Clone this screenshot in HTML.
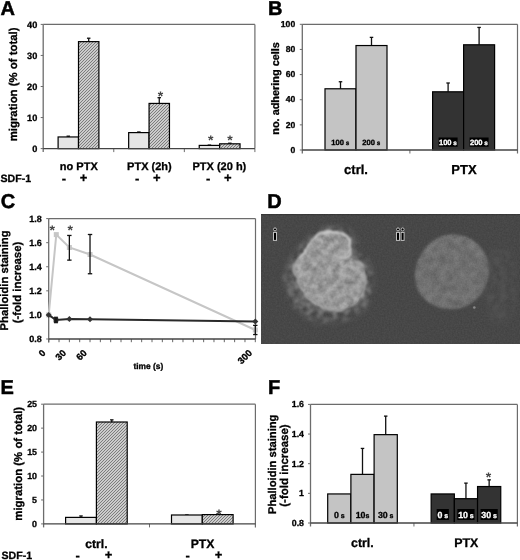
<!DOCTYPE html>
<html><head><meta charset="utf-8"><style>
html,body{margin:0;padding:0;background:#fff;}
svg{display:block;filter:grayscale(1) blur(0.3px);}
</style></head><body>
<svg width="520" height="560" viewBox="0 0 520 560" text-rendering="geometricPrecision" font-family="Liberation Sans, sans-serif" font-weight="bold">
<defs>
<pattern id="hatch" patternUnits="userSpaceOnUse" width="3" height="3">
<rect width="3" height="3" fill="#cbcbcb"/><rect x="2" y="0" width="1" height="1" fill="#7c7c7c"/><rect x="1" y="1" width="1" height="1" fill="#7c7c7c"/><rect x="0" y="2" width="1" height="1" fill="#7c7c7c"/></pattern>
<filter id="blur1" x="-20%" y="-20%" width="140%" height="140%"><feGaussianBlur stdDeviation="1.5"/></filter>
<filter id="blur08" x="-20%" y="-20%" width="140%" height="140%"><feGaussianBlur stdDeviation="0.8"/></filter>
<filter id="blur4" x="-30%" y="-30%" width="160%" height="160%"><feGaussianBlur stdDeviation="4"/></filter>
<clipPath id="cellclip"><path d="M311.4,241.6 C314.0,238.3 316.4,235.4 319.3,233.8 C322.2,232.2 325.2,232.2 329.1,232.2 C333.0,232.2 339.6,232.6 342.9,233.8 C346.2,235.1 347.6,237.1 348.8,239.7 C350.0,242.3 350.5,246.7 350.3,249.5 C350.1,252.3 346.8,254.8 347.5,256.4 C348.2,258.0 352.2,257.8 354.7,259.3 C357.2,260.8 360.7,262.6 362.5,265.2 C364.3,267.8 365.2,271.4 365.5,275.0 C365.8,278.6 365.3,283.2 364.5,286.8 C363.7,290.4 362.1,293.8 360.5,296.7 C358.9,299.6 358.3,302.4 354.7,304.5 C351.1,306.6 343.6,308.8 339.0,309.4 C334.4,310.0 331.1,309.2 327.2,308.4 C323.3,307.6 319.0,306.8 315.4,304.5 C311.8,302.2 308.1,298.0 305.5,294.7 C302.9,291.4 301.4,289.1 299.6,284.9 C297.8,280.6 295.0,273.5 294.7,269.2 C294.4,264.9 296.2,261.9 297.7,259.3 C299.2,256.7 301.3,256.4 303.6,253.4 C305.9,250.4 308.8,244.9 311.4,241.6 Z"/></clipPath>
<filter id="noiseF" x="0" y="0" width="100%" height="100%" color-interpolation-filters="sRGB"><feTurbulence type="fractalNoise" baseFrequency="0.6" numOctaves="2" seed="3"/><feColorMatrix type="matrix" values="1 0 0 0 0  1 0 0 0 0  1 0 0 0 0  0 0 0 0 1"/></filter>
<pattern id="noiseBg" patternUnits="userSpaceOnUse" x="261" y="214" width="259" height="130"><rect width="259" height="130" filter="url(#noiseF)"/></pattern>
<filter id="noiseF2" x="0" y="0" width="100%" height="100%" color-interpolation-filters="sRGB"><feTurbulence type="fractalNoise" baseFrequency="0.14" numOctaves="3" seed="7"/><feColorMatrix type="matrix" values="1.6 0 0 0 -0.2  1.6 0 0 0 -0.2  1.6 0 0 0 -0.2  0 0 0 0 1"/></filter>
<pattern id="noiseCell" patternUnits="userSpaceOnUse" x="261" y="214" width="259" height="130"><rect width="259" height="130" filter="url(#noiseF2)"/></pattern>
<filter id="rough1" x="-20%" y="-20%" width="140%" height="140%"><feTurbulence type="fractalNoise" baseFrequency="0.09" numOctaves="2" seed="5" result="t"/><feDisplacementMap in="SourceGraphic" in2="t" scale="5" xChannelSelector="R" yChannelSelector="G"/><feGaussianBlur stdDeviation="1"/></filter>
<filter id="speckle" x="-30%" y="-30%" width="160%" height="160%" color-interpolation-filters="sRGB"><feGaussianBlur in="SourceGraphic" stdDeviation="3" result="b"/><feTurbulence type="fractalNoise" baseFrequency="0.16" numOctaves="2" seed="11" result="n"/><feColorMatrix in="n" type="matrix" values="0 0 0 0 0  0 0 0 0 0  0 0 0 0 0  0 0 0 2.2 -0.7" result="na"/><feComposite in="b" in2="na" operator="in" result="c"/><feGaussianBlur in="c" stdDeviation="1"/></filter>
<filter id="rough2" x="-20%" y="-20%" width="140%" height="140%"><feTurbulence type="fractalNoise" baseFrequency="0.09" numOctaves="2" seed="5" result="t"/><feDisplacementMap in="SourceGraphic" in2="t" scale="5" xChannelSelector="R" yChannelSelector="G"/><feGaussianBlur stdDeviation="1.8"/></filter>
<filter id="rough4" x="-30%" y="-30%" width="160%" height="160%"><feTurbulence type="fractalNoise" baseFrequency="0.06" numOctaves="2" seed="9" result="t"/><feDisplacementMap in="SourceGraphic" in2="t" scale="14" xChannelSelector="R" yChannelSelector="G"/><feGaussianBlur stdDeviation="3.5"/></filter>
<radialGradient id="cell2"><stop offset="0" stop-color="#777"/><stop offset="0.85" stop-color="#717171"/><stop offset="1" stop-color="#5a5a5a"/></radialGradient>
</defs>
<rect width="520" height="560" fill="#fff"/>
<text x="0.6" y="15.2" font-size="20" text-anchor="start" fill="#000" stroke="#000" stroke-width="0.5">A</text>
<line x1="43.2" y1="24.4" x2="254.9" y2="24.4" stroke="#6c6c6c" stroke-width="1.2"/>
<line x1="254.9" y1="24.4" x2="254.9" y2="148.6" stroke="#6c6c6c" stroke-width="1.2"/>
<line x1="43.2" y1="24.4" x2="43.2" y2="152.1" stroke="#6c6c6c" stroke-width="1.3"/>
<line x1="40.7" y1="148.6" x2="43.2" y2="148.6" stroke="#6c6c6c" stroke-width="1"/>
<text x="37.3" y="151.79999999999998" font-size="9.2" text-anchor="end" fill="#000"  stroke="#000" stroke-width="0.3">0</text>
<line x1="40.7" y1="117.55" x2="43.2" y2="117.55" stroke="#6c6c6c" stroke-width="1"/>
<text x="37.3" y="120.75" font-size="9.2" text-anchor="end" fill="#000"  stroke="#000" stroke-width="0.3">10</text>
<line x1="40.7" y1="86.5" x2="43.2" y2="86.5" stroke="#6c6c6c" stroke-width="1"/>
<text x="37.3" y="89.7" font-size="9.2" text-anchor="end" fill="#000"  stroke="#000" stroke-width="0.3">20</text>
<line x1="40.7" y1="55.45" x2="43.2" y2="55.45" stroke="#6c6c6c" stroke-width="1"/>
<text x="37.3" y="58.650000000000006" font-size="9.2" text-anchor="end" fill="#000"  stroke="#000" stroke-width="0.3">30</text>
<line x1="40.7" y1="24.400000000000006" x2="43.2" y2="24.400000000000006" stroke="#6c6c6c" stroke-width="1"/>
<text x="37.3" y="27.600000000000005" font-size="9.2" text-anchor="end" fill="#000"  stroke="#000" stroke-width="0.3">40</text>
<text x="17.1" y="84.4" font-size="11.4" text-anchor="middle" fill="#000" stroke="#000" stroke-width="0.3" transform="rotate(-90 17.1 84.4)">migration (% of total)</text>
<line x1="68.3" y1="136.18" x2="68.3" y2="136.95624999999998" stroke="#111" stroke-width="1.3"/>
<line x1="66.55" y1="136.18" x2="70.05" y2="136.18" stroke="#111" stroke-width="1.3"/>
<line x1="88.7" y1="38.21724999999999" x2="88.7" y2="41.63275" stroke="#111" stroke-width="1.3"/>
<line x1="86.95" y1="38.21724999999999" x2="90.45" y2="38.21724999999999" stroke="#111" stroke-width="1.3"/>
<rect x="58.1" y="136.95624999999998" width="20.4" height="11.643750000000011" fill="#e6e6e6" stroke="#000" stroke-width="1.2"/>
<rect x="78.5" y="41.63275" width="20.4" height="106.96724999999999" fill="url(#hatch)" stroke="#000" stroke-width="1.2"/>
<line x1="138.86666666666665" y1="131.98825" x2="138.86666666666665" y2="132.60925" stroke="#111" stroke-width="1.3"/>
<line x1="137.11666666666665" y1="131.98825" x2="140.61666666666665" y2="131.98825" stroke="#111" stroke-width="1.3"/>
<line x1="159.26666666666665" y1="97.678" x2="159.26666666666665" y2="103.42224999999999" stroke="#111" stroke-width="1.3"/>
<line x1="157.51666666666665" y1="97.678" x2="161.01666666666665" y2="97.678" stroke="#111" stroke-width="1.3"/>
<rect x="128.66666666666666" y="132.60925" width="20.4" height="15.990749999999991" fill="#e6e6e6" stroke="#000" stroke-width="1.2"/>
<rect x="149.06666666666666" y="103.42224999999999" width="20.4" height="45.17775" fill="url(#hatch)" stroke="#000" stroke-width="1.2"/>
<line x1="113.76666666666667" y1="148.6" x2="113.76666666666667" y2="152.1" stroke="#6c6c6c" stroke-width="1"/>
<line x1="209.4333333333333" y1="145.09135" x2="209.4333333333333" y2="145.40185" stroke="#111" stroke-width="1.3"/>
<line x1="207.6833333333333" y1="145.09135" x2="211.1833333333333" y2="145.09135" stroke="#111" stroke-width="1.3"/>
<line x1="229.83333333333331" y1="143.19729999999998" x2="229.83333333333331" y2="143.8183" stroke="#111" stroke-width="1.3"/>
<line x1="228.08333333333331" y1="143.19729999999998" x2="231.58333333333331" y2="143.19729999999998" stroke="#111" stroke-width="1.3"/>
<rect x="199.23333333333332" y="145.40185" width="20.4" height="3.1981499999999983" fill="#e6e6e6" stroke="#000" stroke-width="1.2"/>
<rect x="219.63333333333333" y="143.8183" width="20.4" height="4.781700000000001" fill="url(#hatch)" stroke="#000" stroke-width="1.2"/>
<line x1="184.33333333333331" y1="148.6" x2="184.33333333333331" y2="152.1" stroke="#6c6c6c" stroke-width="1"/>
<line x1="254.9" y1="148.6" x2="254.9" y2="152.1" stroke="#6c6c6c" stroke-width="1"/>
<line x1="43.2" y1="148.6" x2="254.9" y2="148.6" stroke="#444" stroke-width="1.3"/>
<text x="160.4" y="100.82" font-size="14" text-anchor="middle" fill="#444">*</text>
<text x="210.8" y="145.12" font-size="14" text-anchor="middle" fill="#444">*</text>
<text x="230" y="145.12" font-size="14" text-anchor="middle" fill="#444">*</text>
<text x="78.8" y="170" font-size="11" text-anchor="middle" fill="#000"  stroke="#000" stroke-width="0.3">no PTX</text>
<text x="149.4" y="170" font-size="11" text-anchor="middle" fill="#000"  stroke="#000" stroke-width="0.3">PTX (2h)</text>
<text x="219.4" y="170" font-size="11" text-anchor="middle" fill="#000"  stroke="#000" stroke-width="0.3">PTX (20 h)</text>
<text x="0.5" y="181.5" font-size="10.6" text-anchor="start" fill="#000"  stroke="#000" stroke-width="0.3">SDF-1</text>
<text x="64.0" y="182.6" font-size="13" text-anchor="middle" fill="#000"  stroke="#000" stroke-width="0.3">-</text>
<text x="83.6" y="181.5" font-size="13" text-anchor="middle" fill="#000"  stroke="#000" stroke-width="0.3">+</text>
<text x="137.1" y="182.6" font-size="13" text-anchor="middle" fill="#000"  stroke="#000" stroke-width="0.3">-</text>
<text x="156.9" y="181.5" font-size="13" text-anchor="middle" fill="#000"  stroke="#000" stroke-width="0.3">+</text>
<text x="208.1" y="182.6" font-size="13" text-anchor="middle" fill="#000"  stroke="#000" stroke-width="0.3">-</text>
<text x="227.9" y="181.5" font-size="13" text-anchor="middle" fill="#000"  stroke="#000" stroke-width="0.3">+</text>
<text x="268.0" y="15.3" font-size="20" text-anchor="start" fill="#000" stroke="#000" stroke-width="0.5">B</text>
<line x1="302.3" y1="24.3" x2="517.5" y2="24.3" stroke="#6c6c6c" stroke-width="1.2"/>
<line x1="517.5" y1="24.3" x2="517.5" y2="153.5" stroke="#6c6c6c" stroke-width="1.2"/>
<line x1="302.3" y1="24.3" x2="302.3" y2="153.5" stroke="#6c6c6c" stroke-width="1.3"/>
<line x1="299.8" y1="150.0" x2="302.3" y2="150.0" stroke="#6c6c6c" stroke-width="1"/>
<text x="295.2" y="152.7" font-size="8.6" text-anchor="end" fill="#000"  stroke="#000" stroke-width="0.3">0</text>
<line x1="299.8" y1="124.86" x2="302.3" y2="124.86" stroke="#6c6c6c" stroke-width="1"/>
<text x="295.2" y="127.56" font-size="8.6" text-anchor="end" fill="#000"  stroke="#000" stroke-width="0.3">20</text>
<line x1="299.8" y1="99.72" x2="302.3" y2="99.72" stroke="#6c6c6c" stroke-width="1"/>
<text x="295.2" y="102.42" font-size="8.6" text-anchor="end" fill="#000"  stroke="#000" stroke-width="0.3">40</text>
<line x1="299.8" y1="74.58" x2="302.3" y2="74.58" stroke="#6c6c6c" stroke-width="1"/>
<text x="295.2" y="77.28" font-size="8.6" text-anchor="end" fill="#000"  stroke="#000" stroke-width="0.3">60</text>
<line x1="299.8" y1="49.44" x2="302.3" y2="49.44" stroke="#6c6c6c" stroke-width="1"/>
<text x="295.2" y="52.14" font-size="8.6" text-anchor="end" fill="#000"  stroke="#000" stroke-width="0.3">80</text>
<line x1="299.8" y1="24.299999999999983" x2="302.3" y2="24.299999999999983" stroke="#6c6c6c" stroke-width="1"/>
<text x="295.2" y="26.999999999999982" font-size="8.6" text-anchor="end" fill="#000"  stroke="#000" stroke-width="0.3">100</text>
<text x="279.0" y="88.4" font-size="10.9" text-anchor="middle" fill="#000" stroke="#000" stroke-width="0.3" transform="rotate(-90 279.0 88.4)">no. adhering cells</text>
<line x1="409.9" y1="150.0" x2="409.9" y2="153.5" stroke="#6c6c6c" stroke-width="1"/>
<line x1="340.5" y1="81.74489999999999" x2="340.5" y2="88.7841" stroke="#111" stroke-width="1.3"/>
<line x1="338.75" y1="81.74489999999999" x2="342.25" y2="81.74489999999999" stroke="#111" stroke-width="1.3"/>
<rect x="325.0" y="88.7841" width="31" height="61.215900000000005" fill="#c4c4c4" stroke="#000" stroke-width="1.2"/>
<text x="340.3" y="145.3" font-size="7.6" text-anchor="middle" fill="#000" stroke="#000" stroke-width="0.3">100<tspan font-size="6.3"> s</tspan></text>
<line x1="371.5" y1="37.3728" x2="371.5" y2="45.5433" stroke="#111" stroke-width="1.3"/>
<line x1="369.75" y1="37.3728" x2="373.25" y2="37.3728" stroke="#111" stroke-width="1.3"/>
<rect x="356.0" y="45.5433" width="31" height="104.4567" fill="#c4c4c4" stroke="#000" stroke-width="1.2"/>
<text x="371.3" y="145.3" font-size="7.6" text-anchor="middle" fill="#000" stroke="#000" stroke-width="0.3">200<tspan font-size="6.3"> s</tspan></text>
<line x1="448.09999999999997" y1="83.00189999999999" x2="448.09999999999997" y2="91.8009" stroke="#111" stroke-width="1.3"/>
<line x1="446.34999999999997" y1="83.00189999999999" x2="449.84999999999997" y2="83.00189999999999" stroke="#111" stroke-width="1.3"/>
<rect x="432.59999999999997" y="91.8009" width="31" height="58.1991" fill="#333333" stroke="#000" stroke-width="1.2"/>
<rect x="438.59999999999997" y="137.5" width="19" height="9.3" fill="#000"/>
<text x="447.9" y="145.3" font-size="7.6" text-anchor="middle" fill="#fff" stroke="#fff" stroke-width="0.3">100<tspan font-size="6.3"> s</tspan></text>
<line x1="479.09999999999997" y1="27.442499999999995" x2="479.09999999999997" y2="44.78909999999999" stroke="#111" stroke-width="1.3"/>
<line x1="477.34999999999997" y1="27.442499999999995" x2="480.84999999999997" y2="27.442499999999995" stroke="#111" stroke-width="1.3"/>
<rect x="463.59999999999997" y="44.78909999999999" width="31" height="105.21090000000001" fill="#333333" stroke="#000" stroke-width="1.2"/>
<rect x="469.59999999999997" y="137.5" width="19" height="9.3" fill="#000"/>
<text x="478.9" y="145.3" font-size="7.6" text-anchor="middle" fill="#fff" stroke="#fff" stroke-width="0.3">200<tspan font-size="6.3"> s</tspan></text>
<line x1="302.3" y1="150.0" x2="517.5" y2="150.0" stroke="#444" stroke-width="1.3"/>
<text x="356" y="174.2" font-size="13" text-anchor="middle" fill="#000"  stroke="#000" stroke-width="0.3">ctrl.</text>
<text x="464" y="174" font-size="13" text-anchor="middle" fill="#000"  stroke="#000" stroke-width="0.3">PTX</text>
<text x="0.8" y="207.8" font-size="20" text-anchor="start" fill="#000" stroke="#000" stroke-width="0.5">C</text>
<line x1="48.7" y1="218.6" x2="255.5" y2="218.6" stroke="#6c6c6c" stroke-width="1.2"/>
<line x1="255.5" y1="218.6" x2="255.5" y2="339.0" stroke="#6c6c6c" stroke-width="1.2"/>
<line x1="48.7" y1="218.6" x2="48.7" y2="342.5" stroke="#6c6c6c" stroke-width="1.3"/>
<line x1="46.2" y1="339.0" x2="48.7" y2="339.0" stroke="#6c6c6c" stroke-width="1"/>
<text x="41.8" y="342.1" font-size="9.0" text-anchor="end" fill="#000"  stroke="#000" stroke-width="0.3">0.8</text>
<line x1="46.2" y1="314.92" x2="48.7" y2="314.92" stroke="#6c6c6c" stroke-width="1"/>
<text x="41.8" y="318.02000000000004" font-size="9.0" text-anchor="end" fill="#000"  stroke="#000" stroke-width="0.3">1.0</text>
<line x1="46.2" y1="290.84000000000003" x2="48.7" y2="290.84000000000003" stroke="#6c6c6c" stroke-width="1"/>
<text x="41.8" y="293.94000000000005" font-size="9.0" text-anchor="end" fill="#000"  stroke="#000" stroke-width="0.3">1.2</text>
<line x1="46.2" y1="266.76" x2="48.7" y2="266.76" stroke="#6c6c6c" stroke-width="1"/>
<text x="41.8" y="269.86" font-size="9.0" text-anchor="end" fill="#000"  stroke="#000" stroke-width="0.3">1.4</text>
<line x1="46.2" y1="242.68" x2="48.7" y2="242.68" stroke="#6c6c6c" stroke-width="1"/>
<text x="41.8" y="245.78" font-size="9.0" text-anchor="end" fill="#000"  stroke="#000" stroke-width="0.3">1.6</text>
<line x1="46.2" y1="218.6" x2="48.7" y2="218.6" stroke="#6c6c6c" stroke-width="1"/>
<text x="41.8" y="221.7" font-size="9.0" text-anchor="end" fill="#000"  stroke="#000" stroke-width="0.3">1.8</text>
<line x1="48.7" y1="339.0" x2="48.7" y2="342.2" stroke="#666" stroke-width="1"/>
<line x1="59.03" y1="339.0" x2="59.03" y2="342.2" stroke="#666" stroke-width="1"/>
<line x1="69.36000000000001" y1="339.0" x2="69.36000000000001" y2="342.2" stroke="#666" stroke-width="1"/>
<line x1="79.69000000000001" y1="339.0" x2="79.69000000000001" y2="342.2" stroke="#666" stroke-width="1"/>
<line x1="90.02000000000001" y1="339.0" x2="90.02000000000001" y2="342.2" stroke="#666" stroke-width="1"/>
<line x1="100.35000000000001" y1="339.0" x2="100.35000000000001" y2="342.2" stroke="#666" stroke-width="1"/>
<line x1="110.68" y1="339.0" x2="110.68" y2="342.2" stroke="#666" stroke-width="1"/>
<line x1="121.01000000000002" y1="339.0" x2="121.01000000000002" y2="342.2" stroke="#666" stroke-width="1"/>
<line x1="131.34000000000003" y1="339.0" x2="131.34000000000003" y2="342.2" stroke="#666" stroke-width="1"/>
<line x1="141.67000000000002" y1="339.0" x2="141.67000000000002" y2="342.2" stroke="#666" stroke-width="1"/>
<line x1="152.0" y1="339.0" x2="152.0" y2="342.2" stroke="#666" stroke-width="1"/>
<line x1="162.33000000000004" y1="339.0" x2="162.33000000000004" y2="342.2" stroke="#666" stroke-width="1"/>
<line x1="172.66000000000003" y1="339.0" x2="172.66000000000003" y2="342.2" stroke="#666" stroke-width="1"/>
<line x1="182.99" y1="339.0" x2="182.99" y2="342.2" stroke="#666" stroke-width="1"/>
<line x1="193.32000000000005" y1="339.0" x2="193.32000000000005" y2="342.2" stroke="#666" stroke-width="1"/>
<line x1="203.65000000000003" y1="339.0" x2="203.65000000000003" y2="342.2" stroke="#666" stroke-width="1"/>
<line x1="213.98000000000002" y1="339.0" x2="213.98000000000002" y2="342.2" stroke="#666" stroke-width="1"/>
<line x1="224.31" y1="339.0" x2="224.31" y2="342.2" stroke="#666" stroke-width="1"/>
<line x1="234.64000000000004" y1="339.0" x2="234.64000000000004" y2="342.2" stroke="#666" stroke-width="1"/>
<line x1="244.97000000000003" y1="339.0" x2="244.97000000000003" y2="342.2" stroke="#666" stroke-width="1"/>
<line x1="255.3" y1="339.0" x2="255.3" y2="342.2" stroke="#666" stroke-width="1"/>
<line x1="48.7" y1="339.0" x2="255.5" y2="339.0" stroke="#444" stroke-width="1.3"/>
<text x="7.9" y="280.4" font-size="11.25" text-anchor="middle" fill="#000" stroke="#000" stroke-width="0.3" transform="rotate(-90 7.9 280.4)">Phalloidin staining</text>
<text x="21.3" y="282.5" font-size="11.4" text-anchor="middle" fill="#000" stroke="#000" stroke-width="0.3" transform="rotate(-90 21.3 282.5)">(-fold increase)</text>
<text x="46.1" y="353.6" font-size="9.4" text-anchor="end" stroke="#000" stroke-width="0.35" transform="rotate(-45 46.1 353.6)">0</text>
<text x="66.76000000000002" y="353.6" font-size="9.4" text-anchor="end" stroke="#000" stroke-width="0.35" transform="rotate(-45 66.76000000000002 353.6)">30</text>
<text x="87.42000000000002" y="353.6" font-size="9.4" text-anchor="end" stroke="#000" stroke-width="0.35" transform="rotate(-45 87.42000000000002 353.6)">60</text>
<text x="252.70000000000002" y="353.6" font-size="9.4" text-anchor="end" stroke="#000" stroke-width="0.35" transform="rotate(-45 252.70000000000002 353.6)">300</text>
<text x="148.4" y="369" font-size="8.4" text-anchor="middle" fill="#000"  stroke="#000" stroke-width="0.3">time (s)</text>
<polyline points="48.70,314.92 56.28,234.61 69.36,247.50 90.02,254.48 255.30,329.97" fill="none" stroke="#c6c6c6" stroke-width="2"/>
<rect x="46.20" y="312.42" width="5" height="5" fill="#c6c6c6"/>
<rect x="53.78" y="232.11" width="5" height="5" fill="#c6c6c6"/>
<rect x="66.86" y="245.00" width="5" height="5" fill="#c6c6c6"/>
<rect x="87.52" y="251.98" width="5" height="5" fill="#c6c6c6"/>
<rect x="252.80" y="327.47" width="5" height="5" fill="#c6c6c6"/>
<line x1="69.36000000000001" y1="235.45600000000002" x2="69.36000000000001" y2="260.138" stroke="#111" stroke-width="1.3"/>
<line x1="67.16000000000001" y1="235.45600000000002" x2="71.56000000000002" y2="235.45600000000002" stroke="#111" stroke-width="1.3"/>
<line x1="67.16000000000001" y1="260.138" x2="71.56000000000002" y2="260.138" stroke="#111" stroke-width="1.3"/>
<line x1="90.02000000000001" y1="234.4928" x2="90.02000000000001" y2="273.7432" stroke="#111" stroke-width="1.3"/>
<line x1="87.82000000000001" y1="234.4928" x2="92.22000000000001" y2="234.4928" stroke="#111" stroke-width="1.3"/>
<line x1="87.82000000000001" y1="273.7432" x2="92.22000000000001" y2="273.7432" stroke="#111" stroke-width="1.3"/>
<line x1="255.3" y1="325.3948" x2="255.3" y2="334.5452" stroke="#111" stroke-width="1.3"/>
<line x1="253.10000000000002" y1="325.3948" x2="257.5" y2="325.3948" stroke="#111" stroke-width="1.3"/>
<line x1="253.10000000000002" y1="334.5452" x2="257.5" y2="334.5452" stroke="#111" stroke-width="1.3"/>
<polyline points="48.70,314.92 55.93,319.98 69.36,319.01 90.02,319.37 255.30,321.54" fill="none" stroke="#2a2a2a" stroke-width="2"/>
<path d="M45.70,314.92 L48.70,311.92 L51.70,314.92 L48.70,317.92 Z" fill="#333"/>
<rect x="53.63" y="317.68" width="4.6" height="4.6" fill="#222"/>
<line x1="55.931000000000004" y1="317.27680000000004" x2="55.931000000000004" y2="322.6768" stroke="#111" stroke-width="1.2"/>
<line x1="53.931000000000004" y1="317.27680000000004" x2="57.931000000000004" y2="317.27680000000004" stroke="#111" stroke-width="1.2"/>
<line x1="53.931000000000004" y1="322.6768" x2="57.931000000000004" y2="322.6768" stroke="#111" stroke-width="1.2"/>
<path d="M66.36,319.01 L69.36,316.01 L72.36,319.01 L69.36,322.01 Z" fill="#333"/>
<path d="M87.02,319.37 L90.02,316.37 L93.02,319.37 L90.02,322.37 Z" fill="#333"/>
<path d="M252.30,321.54 L255.30,318.54 L258.30,321.54 L255.30,324.54 Z" fill="#333"/>
<text x="52.3" y="235.12" font-size="14" text-anchor="middle" fill="#444">*</text>
<text x="70.2" y="235.22" font-size="14" text-anchor="middle" fill="#444">*</text>
<text x="267.3" y="208.0" font-size="20" text-anchor="start" fill="#000" stroke="#000" stroke-width="0.5">D</text>
<rect x="261" y="214" width="259" height="130" fill="#434343"/>
<rect x="261" y="214" width="259" height="1.2" fill="#333"/>
<rect x="261" y="214" width="259" height="130" fill="url(#noiseBg)" opacity="0.07"/>
<path d="M311.0,236.0 C315.8,232.7 323.2,228.2 329.0,227.0 C334.8,225.8 341.5,226.8 346.0,229.0 C350.5,231.2 354.0,236.2 356.0,240.0 C358.0,243.8 356.0,248.3 358.0,252.0 C360.0,255.7 365.7,257.7 368.0,262.0 C370.3,266.3 371.7,272.0 372.0,278.0 C372.3,284.0 372.0,292.3 370.0,298.0 C368.0,303.7 364.7,308.3 360.0,312.0 C355.3,315.7 348.7,318.3 342.0,320.0 C335.3,321.7 326.7,323.0 320.0,322.0 C313.3,321.0 307.0,318.0 302.0,314.0 C297.0,310.0 292.8,304.0 290.0,298.0 C287.2,292.0 285.0,284.3 285.0,278.0 C285.0,271.7 287.5,265.2 290.0,260.0 C292.5,254.8 296.5,251.0 300.0,247.0 C303.5,243.0 306.2,239.3 311.0,236.0 Z" fill="#8a8a8a" filter="url(#speckle)"/>
<path d="M311.4,241.6 C314.0,238.3 316.4,235.4 319.3,233.8 C322.2,232.2 325.2,232.2 329.1,232.2 C333.0,232.2 339.6,232.6 342.9,233.8 C346.2,235.1 347.6,237.1 348.8,239.7 C350.0,242.3 350.5,246.7 350.3,249.5 C350.1,252.3 346.8,254.8 347.5,256.4 C348.2,258.0 352.2,257.8 354.7,259.3 C357.2,260.8 360.7,262.6 362.5,265.2 C364.3,267.8 365.2,271.4 365.5,275.0 C365.8,278.6 365.3,283.2 364.5,286.8 C363.7,290.4 362.1,293.8 360.5,296.7 C358.9,299.6 358.3,302.4 354.7,304.5 C351.1,306.6 343.6,308.8 339.0,309.4 C334.4,310.0 331.1,309.2 327.2,308.4 C323.3,307.6 319.0,306.8 315.4,304.5 C311.8,302.2 308.1,298.0 305.5,294.7 C302.9,291.4 301.4,289.1 299.6,284.9 C297.8,280.6 295.0,273.5 294.7,269.2 C294.4,264.9 296.2,261.9 297.7,259.3 C299.2,256.7 301.3,256.4 303.6,253.4 C305.9,250.4 308.8,244.9 311.4,241.6 Z" fill="#989898" filter="url(#rough2)"/>
<g clip-path="url(#cellclip)"><rect x="285" y="225" width="90" height="95" fill="url(#noiseCell)" opacity="0.2"/></g>
<path d="M297.7,259.3 C298.7,258.3 301.3,256.4 303.6,253.4 C305.9,250.4 308.8,244.9 311.4,241.6 C314.0,238.3 316.4,235.4 319.3,233.8 C322.2,232.2 325.2,232.2 329.1,232.2 C333.0,232.2 339.6,232.6 342.9,233.8 C346.2,235.1 347.6,237.1 348.8,239.7 C350.0,242.3 350.5,246.7 350.3,249.5 C350.1,252.3 349.2,255.0 347.5,256.4 C345.8,257.8 341.2,257.7 340.0,258.0 " fill="none" stroke="#c8c8c8" stroke-width="2.4" filter="url(#rough1)"/>
<path d="M297.7,259.3 C297.2,260.9 294.4,264.9 294.7,269.2 C295.0,273.5 297.8,280.6 299.6,284.9 C301.4,289.1 302.9,291.4 305.5,294.7 C308.1,298.0 311.8,302.2 315.4,304.5 C319.0,306.8 323.3,307.6 327.2,308.4 C331.1,309.2 335.2,309.8 339.0,309.4 C342.8,309.0 348.2,306.6 350.0,306.0 " fill="none" stroke="#b2b2b2" stroke-width="2" filter="url(#rough1)" opacity="0.85"/>
<path d="M300.0,262.0 C302.5,261.5 310.0,259.7 315.0,259.0 C320.0,258.3 325.0,258.3 330.0,258.0 C335.0,257.7 342.5,257.2 345.0,257.0 " fill="none" stroke="#a8a8a8" stroke-width="1.6" filter="url(#rough1)" opacity="0.7"/>
<path d="M354.7,259.3 C356.0,260.3 360.7,262.6 362.5,265.2 C364.3,267.8 365.2,271.4 365.5,275.0 C365.8,278.6 365.3,283.2 364.5,286.8 C363.7,290.4 361.2,295.1 360.5,296.7 " fill="none" stroke="#acacac" stroke-width="2" filter="url(#rough1)" opacity="0.8"/>
<path d="M452,234.5 C470,234 486,247 488.5,265 C491,285 478,304 460,308 C440,312 420,302 416,284 C411,262 428,235 452,234.5 Z" fill="#686868" filter="url(#blur1)"/>
<path d="M452,234.5 C470,234 486,247 488.5,265 C491,285 478,304 460,308 C440,312 420,302 416,284 C411,262 428,235 452,234.5 Z" fill="url(#noiseBg)" opacity="0.10"/>
<path d="M452,234.5 C470,234 486,247 488.5,265 C491,285 478,304 460,308 C440,312 420,302 416,284 C411,262 428,235 452,234.5 Z" fill="url(#noiseCell)" opacity="0.10" filter="url(#blur08)"/>
<ellipse cx="500" cy="285" rx="16" ry="42" fill="#5e5e5e" filter="url(#speckle)" opacity="0.55"/>
<circle cx="474.3" cy="307.5" r="1.3" fill="#8a8a8a"/>
<rect x="273.5" y="232.4" width="3" height="8" fill="#000" stroke="#c0c0c0" stroke-width="1"/>
<circle cx="275.0" cy="229.4" r="1.5" fill="#000" stroke="#c0c0c0" stroke-width="1"/>
<rect x="396.5" y="232.4" width="3" height="8" fill="#000" stroke="#c0c0c0" stroke-width="1"/>
<circle cx="398.0" cy="229.4" r="1.5" fill="#000" stroke="#c0c0c0" stroke-width="1"/>
<rect x="401.1" y="232.4" width="3" height="8" fill="#000" stroke="#c0c0c0" stroke-width="1"/>
<circle cx="402.6" cy="229.4" r="1.5" fill="#000" stroke="#c0c0c0" stroke-width="1"/>
<text x="0.6" y="394.2" font-size="20" text-anchor="start" fill="#000" stroke="#000" stroke-width="0.5">E</text>
<line x1="43.6" y1="404.2" x2="255.4" y2="404.2" stroke="#6c6c6c" stroke-width="1.2"/>
<line x1="255.4" y1="404.2" x2="255.4" y2="527.4" stroke="#6c6c6c" stroke-width="1.2"/>
<line x1="43.6" y1="404.2" x2="43.6" y2="527.4" stroke="#6c6c6c" stroke-width="1.3"/>
<line x1="41.1" y1="523.9" x2="43.6" y2="523.9" stroke="#6c6c6c" stroke-width="1"/>
<text x="37.0" y="527.0" font-size="8.9" text-anchor="end" fill="#000"  stroke="#000" stroke-width="0.3">0</text>
<line x1="41.1" y1="499.96" x2="43.6" y2="499.96" stroke="#6c6c6c" stroke-width="1"/>
<text x="37.0" y="503.06" font-size="8.9" text-anchor="end" fill="#000"  stroke="#000" stroke-width="0.3">5</text>
<line x1="41.1" y1="476.02" x2="43.6" y2="476.02" stroke="#6c6c6c" stroke-width="1"/>
<text x="37.0" y="479.12" font-size="8.9" text-anchor="end" fill="#000"  stroke="#000" stroke-width="0.3">10</text>
<line x1="41.1" y1="452.08" x2="43.6" y2="452.08" stroke="#6c6c6c" stroke-width="1"/>
<text x="37.0" y="455.18" font-size="8.9" text-anchor="end" fill="#000"  stroke="#000" stroke-width="0.3">15</text>
<line x1="41.1" y1="428.14" x2="43.6" y2="428.14" stroke="#6c6c6c" stroke-width="1"/>
<text x="37.0" y="431.24" font-size="8.9" text-anchor="end" fill="#000"  stroke="#000" stroke-width="0.3">20</text>
<line x1="41.1" y1="404.2" x2="43.6" y2="404.2" stroke="#6c6c6c" stroke-width="1"/>
<text x="37.0" y="407.3" font-size="8.9" text-anchor="end" fill="#000"  stroke="#000" stroke-width="0.3">25</text>
<text x="21.6" y="463.8" font-size="11.4" text-anchor="middle" fill="#000" stroke="#000" stroke-width="0.3" transform="rotate(-90 21.6 463.8)">migration (% of total)</text>
<line x1="149.5" y1="523.9" x2="149.5" y2="527.4" stroke="#6c6c6c" stroke-width="1"/>
<line x1="81.0" y1="515.95192" x2="81.0" y2="517.38832" stroke="#111" stroke-width="1.3"/>
<line x1="79.25" y1="515.95192" x2="82.75" y2="515.95192" stroke="#111" stroke-width="1.3"/>
<line x1="111.8" y1="419.85676" x2="111.8" y2="422.01135999999997" stroke="#111" stroke-width="1.3"/>
<line x1="110.05" y1="419.85676" x2="113.55" y2="419.85676" stroke="#111" stroke-width="1.3"/>
<rect x="65.6" y="517.38832" width="30.8" height="6.511679999999956" fill="#e6e6e6" stroke="#000" stroke-width="1.2"/>
<rect x="96.39999999999999" y="422.01135999999997" width="30.8" height="101.88864000000001" fill="url(#hatch)" stroke="#000" stroke-width="1.2"/>
<text x="77.7" y="560" font-size="13" text-anchor="middle" fill="#000"  stroke="#000" stroke-width="0.3">-</text>
<text x="108.5" y="559" font-size="13" text-anchor="middle" fill="#000"  stroke="#000" stroke-width="0.3">+</text>
<line x1="186.9" y1="514.99432" x2="186.9" y2="514.99432" stroke="#111" stroke-width="1.3"/>
<line x1="185.15" y1="514.99432" x2="188.65" y2="514.99432" stroke="#111" stroke-width="1.3"/>
<line x1="217.7" y1="514.13248" x2="217.7" y2="514.61128" stroke="#111" stroke-width="1.3"/>
<line x1="215.95" y1="514.13248" x2="219.45" y2="514.13248" stroke="#111" stroke-width="1.3"/>
<rect x="171.5" y="514.99432" width="30.8" height="8.905679999999961" fill="#e6e6e6" stroke="#000" stroke-width="1.2"/>
<rect x="202.3" y="514.61128" width="30.8" height="9.288720000000012" fill="url(#hatch)" stroke="#000" stroke-width="1.2"/>
<text x="187.7" y="560" font-size="13" text-anchor="middle" fill="#000"  stroke="#000" stroke-width="0.3">-</text>
<text x="218.5" y="559" font-size="13" text-anchor="middle" fill="#000"  stroke="#000" stroke-width="0.3">+</text>
<line x1="43.6" y1="523.9" x2="255.4" y2="523.9" stroke="#444" stroke-width="1.3"/>
<text x="219" y="518.62" font-size="14" text-anchor="middle" fill="#444">*</text>
<text x="96.4" y="547.7" font-size="12.2" text-anchor="middle" fill="#000"  stroke="#000" stroke-width="0.3">ctrl.</text>
<text x="202.5" y="547.5" font-size="12.2" text-anchor="middle" fill="#000"  stroke="#000" stroke-width="0.3">PTX</text>
<text x="1.5" y="558.7" font-size="10.6" text-anchor="start" fill="#000"  stroke="#000" stroke-width="0.3">SDF-1</text>
<text x="268.0" y="394.2" font-size="20" text-anchor="start" fill="#000" stroke="#000" stroke-width="0.5">F</text>
<line x1="310.5" y1="404.4" x2="517.4" y2="404.4" stroke="#6c6c6c" stroke-width="1.2"/>
<line x1="517.4" y1="404.4" x2="517.4" y2="526.5" stroke="#6c6c6c" stroke-width="1.2"/>
<line x1="310.5" y1="404.4" x2="310.5" y2="526.5" stroke="#6c6c6c" stroke-width="1.3"/>
<line x1="308.0" y1="523.0" x2="310.5" y2="523.0" stroke="#6c6c6c" stroke-width="1"/>
<text x="304" y="525.9" font-size="8.8" text-anchor="end" fill="#000"  stroke="#000" stroke-width="0.3">0.8</text>
<line x1="308.0" y1="493.35" x2="310.5" y2="493.35" stroke="#6c6c6c" stroke-width="1"/>
<text x="304" y="496.25" font-size="8.8" text-anchor="end" fill="#000"  stroke="#000" stroke-width="0.3">1</text>
<line x1="308.0" y1="463.7" x2="310.5" y2="463.7" stroke="#6c6c6c" stroke-width="1"/>
<text x="304" y="466.59999999999997" font-size="8.8" text-anchor="end" fill="#000"  stroke="#000" stroke-width="0.3">1.2</text>
<line x1="308.0" y1="434.05" x2="310.5" y2="434.05" stroke="#6c6c6c" stroke-width="1"/>
<text x="304" y="436.95" font-size="8.8" text-anchor="end" fill="#000"  stroke="#000" stroke-width="0.3">1.4</text>
<line x1="308.0" y1="404.4" x2="310.5" y2="404.4" stroke="#6c6c6c" stroke-width="1"/>
<text x="304" y="407.29999999999995" font-size="8.8" text-anchor="end" fill="#000"  stroke="#000" stroke-width="0.3">1.6</text>
<text x="275.6" y="464.3" font-size="11.2" text-anchor="middle" fill="#000" stroke="#000" stroke-width="0.3" transform="rotate(-90 275.6 464.3)">Phalloidin staining</text>
<text x="287.9" y="465.5" font-size="11.5" text-anchor="middle" fill="#000" stroke="#000" stroke-width="0.3" transform="rotate(-90 287.9 465.5)">(-fold increase)</text>
<line x1="413.95" y1="523.0" x2="413.95" y2="526.5" stroke="#6c6c6c" stroke-width="1"/>
<rect x="327.7" y="493.943" width="23.2" height="29.057000000000016" fill="#c4c4c4" stroke="#000" stroke-width="1.2"/>
<text x="339.3" y="518.1" font-size="8.8" text-anchor="middle" fill="#000" stroke="#000" stroke-width="0.3">0<tspan font-size="7"> s</tspan></text>
<line x1="362.5" y1="448.43025" x2="362.5" y2="474.374" stroke="#111" stroke-width="1.3"/>
<line x1="360.75" y1="448.43025" x2="364.25" y2="448.43025" stroke="#111" stroke-width="1.3"/>
<rect x="350.9" y="474.374" width="23.2" height="48.625999999999976" fill="#c4c4c4" stroke="#000" stroke-width="1.2"/>
<text x="362.5" y="518.1" font-size="8.8" text-anchor="middle" fill="#000" stroke="#000" stroke-width="0.3">10<tspan font-size="7">s</tspan></text>
<line x1="385.7" y1="416.11175000000003" x2="385.7" y2="434.64300000000003" stroke="#111" stroke-width="1.3"/>
<line x1="383.95" y1="416.11175000000003" x2="387.45" y2="416.11175000000003" stroke="#111" stroke-width="1.3"/>
<rect x="374.09999999999997" y="434.64300000000003" width="23.2" height="88.35699999999997" fill="#c4c4c4" stroke="#000" stroke-width="1.2"/>
<text x="385.7" y="518.1" font-size="8.8" text-anchor="middle" fill="#000" stroke="#000" stroke-width="0.3">30<tspan font-size="7"> s</tspan></text>
<rect x="431.15" y="493.943" width="23.2" height="29.057000000000016" fill="#333333" stroke="#000" stroke-width="1.2"/>
<rect x="436.65" y="509" width="12.2" height="11" fill="#000"/>
<text x="442.75" y="518.1" font-size="8.8" text-anchor="middle" fill="#fff" stroke="#fff" stroke-width="0.3">0<tspan font-size="7"> s</tspan></text>
<line x1="465.95" y1="483.12075" x2="465.95" y2="498.687" stroke="#111" stroke-width="1.3"/>
<line x1="464.2" y1="483.12075" x2="467.7" y2="483.12075" stroke="#111" stroke-width="1.3"/>
<rect x="454.34999999999997" y="498.687" width="23.2" height="24.312999999999988" fill="#333333" stroke="#000" stroke-width="1.2"/>
<rect x="457.34999999999997" y="509" width="17.2" height="11" fill="#000"/>
<text x="465.95" y="518.1" font-size="8.8" text-anchor="middle" fill="#fff" stroke="#fff" stroke-width="0.3">10<tspan font-size="7"> s</tspan></text>
<line x1="489.15" y1="479.85925" x2="489.15" y2="486.5305" stroke="#111" stroke-width="1.3"/>
<line x1="487.4" y1="479.85925" x2="490.9" y2="479.85925" stroke="#111" stroke-width="1.3"/>
<rect x="477.54999999999995" y="486.5305" width="23.2" height="36.46949999999998" fill="#333333" stroke="#000" stroke-width="1.2"/>
<rect x="480.54999999999995" y="509" width="17.2" height="11" fill="#000"/>
<text x="489.15" y="518.1" font-size="8.8" text-anchor="middle" fill="#fff" stroke="#fff" stroke-width="0.3">30<tspan font-size="7"> s</tspan></text>
<line x1="310.5" y1="523.0" x2="517.4" y2="523.0" stroke="#444" stroke-width="1.3"/>
<text x="488.4" y="482.12" font-size="14" text-anchor="middle" fill="#444">*</text>
<text x="362.4" y="547.1" font-size="12.4" text-anchor="middle" fill="#000"  stroke="#000" stroke-width="0.3">ctrl.</text>
<text x="466.2" y="546.9" font-size="12.4" text-anchor="middle" fill="#000"  stroke="#000" stroke-width="0.3">PTX</text>
</svg></body></html>
